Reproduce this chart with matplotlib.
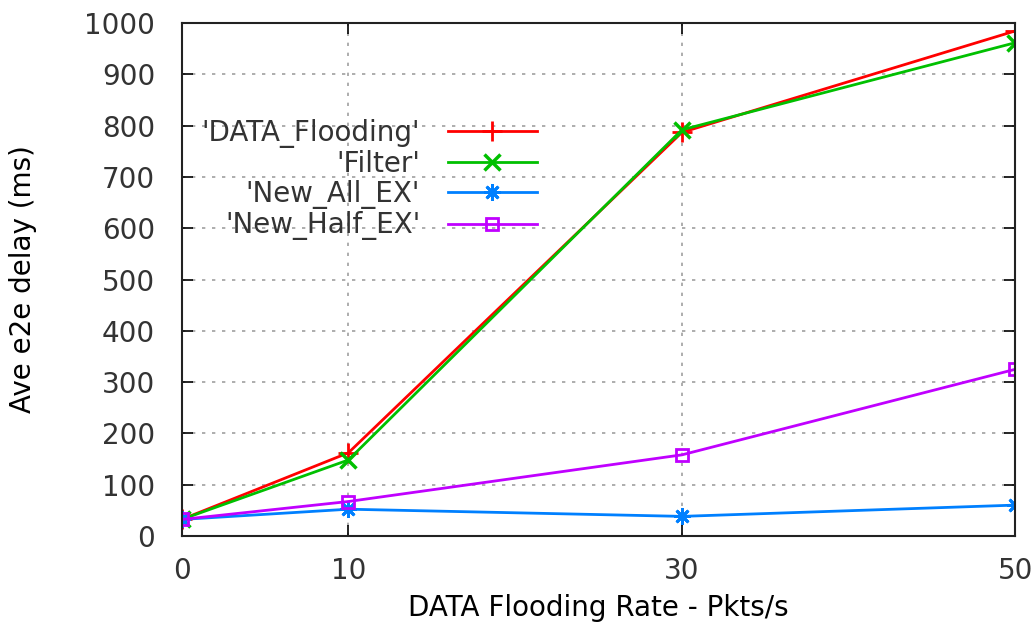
import numpy as np
import matplotlib.pyplot as plt

# Data
rate = [0, 10, 30, 50]
data_flooding = [32, 162, 787, 985]
filter_ = [32, 148, 792, 962]
new_all_ex = [32, 52, 38, 60]
new_half_ex = [32, 67, 158, 325]

plt.rcParams["font.family"] = "DejaVu Sans"
plt.rcParams["text.color"] = "#333333"

fig = plt.figure(figsize=(10.32, 6.26), dpi=100)
ax = fig.add_axes([0.176, 0.144, 0.808, 0.819])

ax.plot(rate, data_flooding, color="#ff0000", lw=2, marker="+", ms=14, mew=2,
        label="'DATA_Flooding'")
ax.plot(rate, filter_, color="#00c000", lw=2, marker="x", ms=11, mew=2.5,
        label="'Filter'")
ax.plot(rate, new_all_ex, color="#0080ff", lw=2, marker=(8, 2, 0), ms=12, mew=2,
        label="'New_All_EX'")
ax.plot(rate, new_half_ex, color="#c000ff", lw=2, marker="s", ms=9, mew=2,
        mfc="none", label="'New_Half_EX'")

ax.set_xlim(0, 50)
ax.set_ylim(0, 1000)
ax.set_xticks(rate)
ax.set_yticks(np.arange(0, 1001, 100))
ax.tick_params(direction="in", length=8, width=1.2, top=True, right=True,
               labelsize=20, labelcolor="#333333")
ax.tick_params(axis="y", pad=19)
ax.tick_params(axis="x", pad=15)
ax.grid(True, color="#a0a0a0", linestyle=(0, (2, 4)), lw=1.2)
for s in ax.spines.values():
    s.set_linewidth(1.5)
    s.set_color("#222222")

ax.set_xlabel("DATA Flooding Rate - Pkts/s", fontsize=20, labelpad=7)
ax.set_ylabel("Ave e2e delay (ms)", fontsize=20, labelpad=34)

leg = ax.legend(loc="center right", bbox_to_anchor=(0.426, 0.695), frameon=False,
                markerfirst=False, fontsize=20, handlelength=3.2,
                labelspacing=0.08, handletextpad=1.0, borderaxespad=0,
                borderpad=0)
for col in leg._legend_handle_box.get_children():
    col.align = "right"

fig.savefig("out.png", dpi=100)
